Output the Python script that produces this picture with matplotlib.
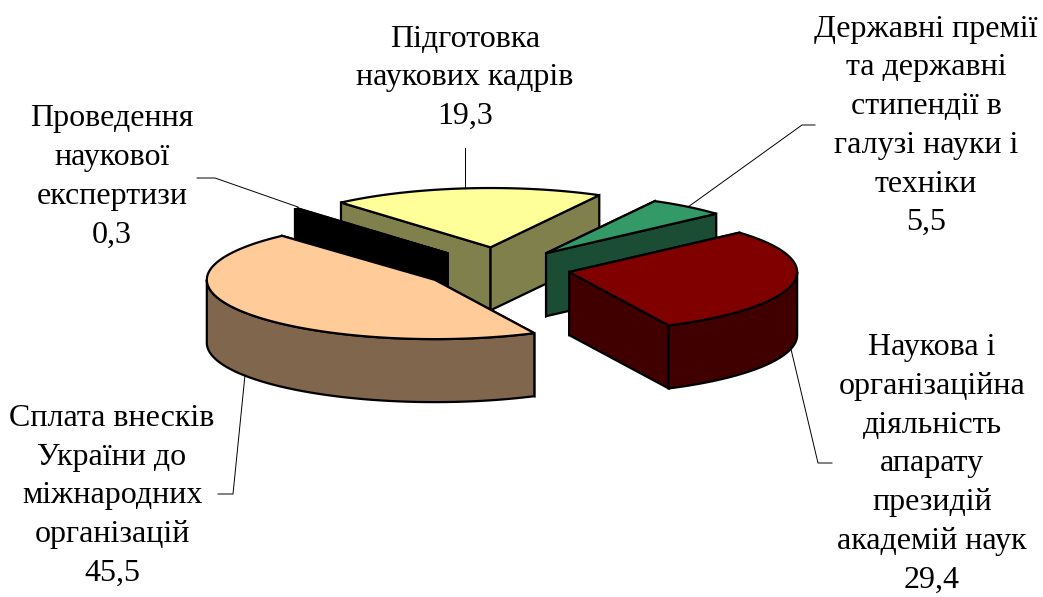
import numpy as np
import matplotlib; matplotlib.use('agg')
import matplotlib.pyplot as plt

# slices in clockwise order, starting from the yellow one
names = ['Підготовка\nнаукових кадрів', 'Державні премії\nта державні\nстипендії в\nгалузі науки і\nтехніки',
         'Наукова і\nорганізаційна\nдіяльність\nапарату\nпрезидій\nакадемій наук',
         'Сплата внесків\nУкраїни до\nміжнародних\nорганізацій', 'Проведення\nнаукової\nекспертизи']
values = [19.3, 5.5, 29.4, 45.5, 0.3]
value_labels = ['19,3', '5,5', '29,4', '45,5', '0,3']

top_colors = ['#FFFF99', '#339966', '#800000', '#FFCC99', '#000000']
side_colors = ['#80804D', '#1A4D33', '#400000', '#80664D', '#000000']
explode = [82, 75, 71, 78, 78]
draw_order = [0, 1, 4, 2, 3]

label_xy = [(465, 78), (926, 126), (932, 464), (112, 496), (112, 177)]
leaders = [[(465, 188), (465, 148)],
           [(688, 207), (802, 125), (815, 125)],
           [(790, 345), (818, 463), (832, 463)],
           [(245, 375), (233, 494), (218, 494)],
           [(298, 207), (215, 178), (197, 178)]]

start_angle = 319.0
cx, cy = 499.5, 268.5
R, squash, depth = 228, 0.26, 63

fig = plt.figure(figsize=(10.43, 5.97), dpi=100)
ax = fig.add_axes([0, 0, 1, 1])
ax.set_xlim(0, 1043)
ax.set_ylim(597, 0)
ax.axis('off')


def rim(theta, ox, oy, drop=0):
    t = np.radians(theta)
    return np.column_stack([ox + R*np.sin(t), oy - R*squash*np.cos(t) + drop])


def draw_slice(a0, a1, e, top, side):
    mid = np.radians((a0 + a1)/2)
    ox = cx + e*np.sin(mid)
    oy = cy - e*squash*np.cos(mid)
    tip = np.array([[ox, oy]])
    tip_low = tip + [0, depth]
    style = dict(edgecolor='black', linewidth=1.6, joinstyle='miter')

    # the two flat cut faces
    for a in (a0, a1):
        p = rim(np.array([a]), ox, oy)
        q = rim(np.array([a]), ox, oy, depth)
        ax.fill(*np.vstack([tip, p, q, tip_low]).T, facecolor=side, **style)

    # outer wall, only the part that faces us (angles run past 360)
    for turn in (0, 360):
        lo, hi = max(a0, 90 + turn), min(a1, 270 + turn)
        if hi > lo:
            th = np.linspace(lo, hi, 80)
            wall = np.vstack([rim(th, ox, oy), rim(th[::-1], ox, oy, depth)])
            ax.fill(*wall.T, facecolor=side, **style)

    th = np.linspace(a0, a1, 120)
    ax.fill(*np.vstack([tip, rim(th, ox, oy)]).T, facecolor=top, **style)


for pts in leaders:
    ax.plot(*zip(*pts), color='black', lw=0.7)

edges = start_angle + np.cumsum([0] + values)*3.6
for i in draw_order:
    draw_slice(edges[i], edges[i+1], explode[i], top_colors[i], side_colors[i])

for name, val, (x, y) in zip(names, value_labels, label_xy):
    ax.text(x, y, name + '\n' + val, ha='center', va='center', fontsize=23,
            family='Liberation Serif', linespacing=1.44)

fig.savefig('out.png', dpi=100)
